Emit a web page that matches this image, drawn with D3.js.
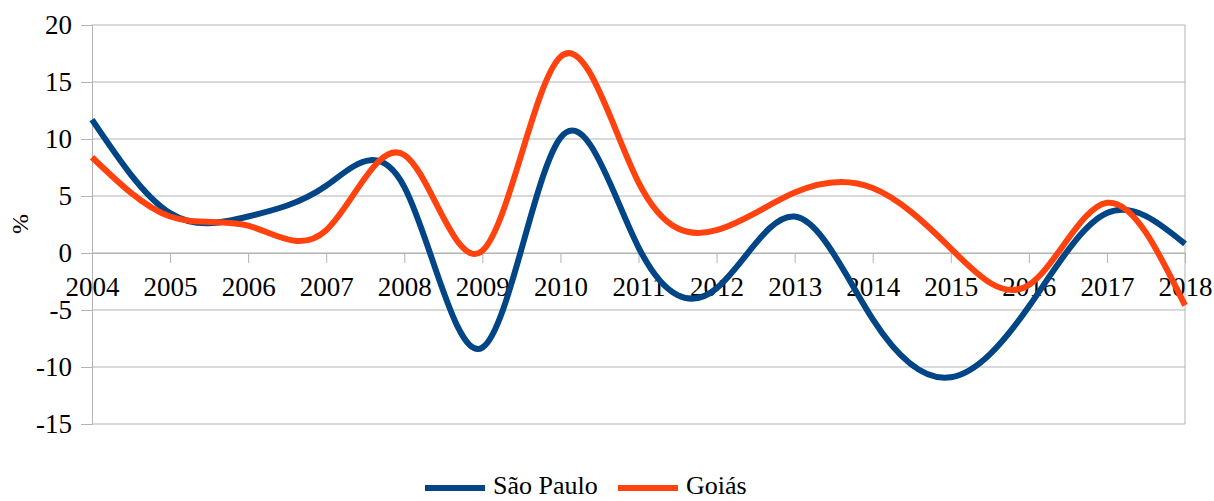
<!DOCTYPE html>
<html>
<head>
<meta charset="utf-8">
<script src="https://cdnjs.cloudflare.com/ajax/libs/d3/7.8.5/d3.min.js"></script>
<style>
  body { margin: 0; background: #fff; }
</style>
</head>
<body>
<div id="chart"></div>
<script>
// Data
let years = ["2004", "2005", "2006", "2007", "2008", "2009", "2010", "2011",
  "2012", "2013", "2014", "2015", "2016", "2017", "2018"];
let saoPaulo = [11.7, 3.5, 3.2, 5.9, 5.8, -8.3, 10.1, 0.5, -3.1, 3.2, -5.8, -10.9, -4.7, 3.5, 0.8];
let goias = [8.4, 3.2, 2.4, 2.0, 8.6, 0.2, 17.2, 6.2, 2.0, 5.3, 5.7, 0.4, -2.8, 4.4, -4.6];
let yTicks = [-15, -10, -5, 0, 5, 10, 15, 20];
let seriesNames = ["São Paulo", "Goiás"];
let seriesColors = ["#004586", "#ff420e"];

let fontStack = "'Liberation Serif', 'Times New Roman', Times, 'DejaVu Serif', serif";

// Set chart measurements and margins
let svgWidth = 1214;
let svgHeight = 501;

let margin = {
  top: 25,
  right: 29,
  bottom: 77,
  left: 92
};

let width = svgWidth - margin.left - margin.right;
let height = svgHeight - margin.top - margin.bottom;

let svg = d3.select("#chart")
  .append("svg")
  .attr("width", svgWidth)
  .attr("height", svgHeight);

let chartGroup = svg.append("g")
  .attr("transform", `translate(${margin.left}, ${margin.top})`);

// scales
let xScale = d3.scalePoint()
  .domain(years)
  .range([0, width]);

let yScale = d3.scaleLinear()
  .domain([-15, 20])
  .range([height, 0]);

let gridColor = "#b3b3b3";

// horizontal gridlines
chartGroup.selectAll(".grid")
  .data(yTicks)
  .enter()
  .append("line")
  .attr("x1", 0)
  .attr("x2", width)
  .attr("y1", d => yScale(d))
  .attr("y2", d => yScale(d))
  .attr("stroke", gridColor)
  .attr("stroke-width", 1);

// left axis (plain hyphen for negatives)
let leftAxis = d3.axisLeft(yScale)
  .tickValues(yTicks)
  .tickFormat(d => String(d))
  .tickSize(11)
  .tickPadding(9);

let yAxis = chartGroup.append("g").call(leftAxis);
yAxis.select(".domain").attr("stroke", gridColor);
yAxis.selectAll(".tick line").attr("stroke", gridColor);
yAxis.selectAll("text")
  .style("font-family", fontStack)
  .style("font-size", "27px")
  .attr("fill", "#000");

// right frame line
chartGroup.append("line")
  .attr("x1", width)
  .attr("x2", width)
  .attr("y1", 0)
  .attr("y2", height)
  .attr("stroke", gridColor);

// bottom axis sits on zero
let bottomAxis = d3.axisBottom(xScale)
  .tickSize(10)
  .tickPadding(14);

let xAxis = chartGroup.append("g")
  .attr("transform", `translate(0, ${yScale(0)})`)
  .call(bottomAxis);
xAxis.select(".domain").attr("stroke", gridColor);
xAxis.selectAll(".tick line").attr("stroke", gridColor);
xAxis.selectAll("text")
  .style("font-family", fontStack)
  .style("font-size", "27px")
  .attr("fill", "#000");

// y axis title
svg.append("text")
  .attr("transform", `translate(28, 224) rotate(-90)`)
  .attr("text-anchor", "middle")
  .style("font-family", fontStack)
  .style("font-size", "24px")
  .text("%");

// lines
let line = d3.line()
  .x((d, i) => xScale(years[i]))
  .y(d => yScale(d))
  .curve(d3.curveNatural);

[saoPaulo, goias].forEach(function(values, i) {
  chartGroup.append("path")
    .datum(values)
    .attr("d", line)
    .attr("fill", "none")
    .attr("stroke", seriesColors[i])
    .attr("stroke-width", 6);
});

// legend
let legendX = [425, 618];
seriesNames.forEach(function(name, i) {
  let g = svg.append("g")
    .attr("transform", `translate(${legendX[i]}, 488)`);
  g.append("line")
    .attr("x1", 0)
    .attr("x2", 60)
    .attr("y1", 0)
    .attr("y2", 0)
    .attr("stroke", seriesColors[i])
    .attr("stroke-width", 6);
  g.append("text")
    .attr("x", 68)
    .attr("y", 6)
    .style("font-family", fontStack)
    .style("font-size", "26px")
    .text(name);
});
</script>
</body>
</html>
